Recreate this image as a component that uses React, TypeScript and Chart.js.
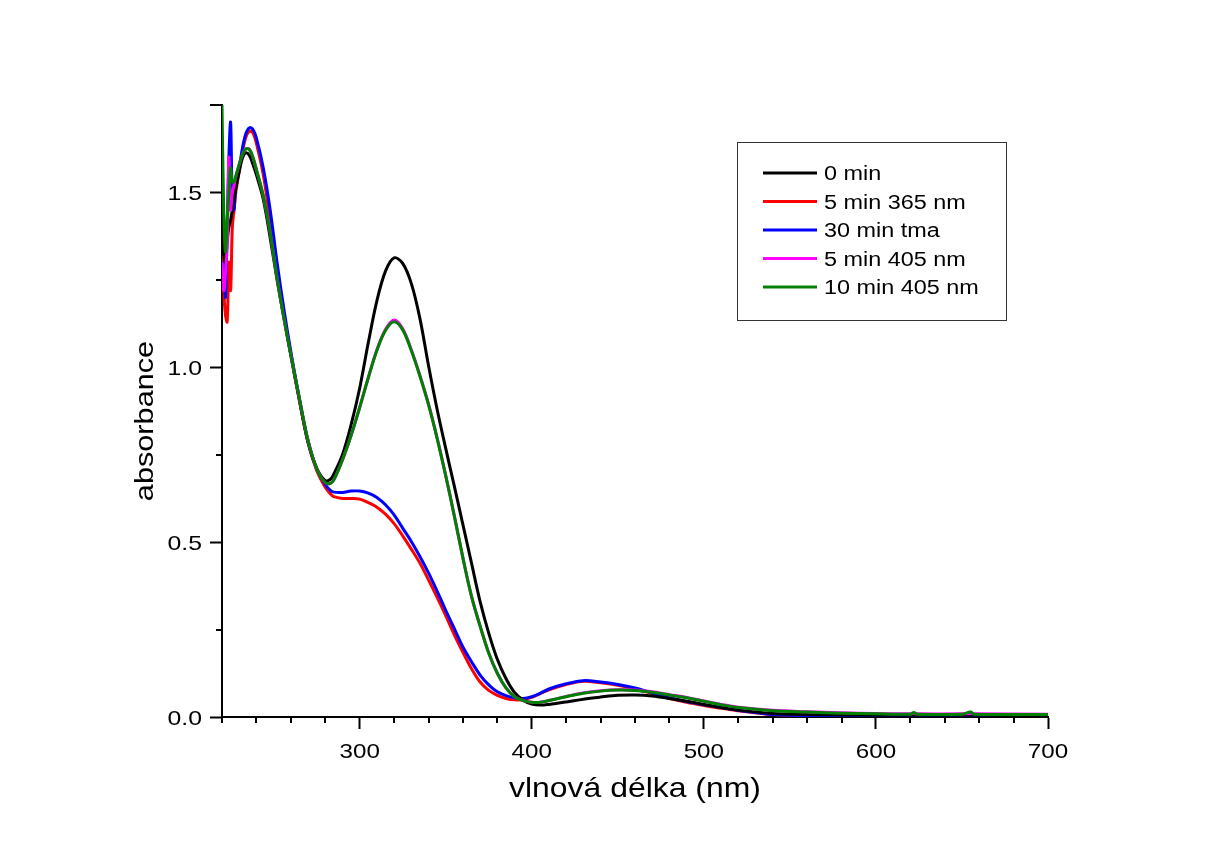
import React, { useEffect, useRef } from "react";
import { Chart, registerables } from "chart.js";

Chart.register(...registerables);

// ---------------- data ----------------
const wavelengths = [
  220, 221, 222, 223, 224, 225, 226, 227, 228,
  230, 232, 234, 236, 238, 240,
  244, 248, 252, 256, 260,
  265, 270, 275, 280,
  283, 285,
  290, 295, 300, 305, 310, 315, 320, 325, 330, 335, 340, 345, 350, 355, 360, 365, 370, 375, 380, 385, 390, 395, 400,
  405, 410,
  420, 430, 440, 450, 460, 470, 480, 490, 500, 510, 520,
  540, 560, 580, 600,
  620, 622, 624,
  650, 655, 657,
  700,
];

const min0 = [
  1.38, 1.32, 1.30, 1.36, 1.40, 1.42, 1.45, 1.48, 1.51,
  1.56, 1.60, 1.613, 1.605, 1.58, 1.55,
  1.48, 1.37, 1.25, 1.14, 1.035,
  0.905, 0.785, 0.712, 0.676,
  0.68, 0.695,
  0.75, 0.835, 0.94, 1.07, 1.19, 1.275, 1.313, 1.297, 1.24, 1.14, 1.005, 0.88, 0.768, 0.66, 0.55, 0.44, 0.33, 0.24, 0.165, 0.11, 0.07, 0.048, 0.037,
  0.034, 0.036,
  0.043, 0.051, 0.057, 0.062, 0.063, 0.06, 0.053, 0.045, 0.036, 0.027, 0.02,
  0.01, 0.007, 0.006, 0.005,
  0.005, 0.005, 0.005,
  0.005, 0.005, 0.005,
  0.004,
];

const min5_365 = [
  1.35, 1.22, 1.15, 1.13, 1.30, 1.22, 1.40, 1.45, 1.50,
  1.56, 1.62, 1.66, 1.675, 1.67, 1.64,
  1.55, 1.42, 1.28, 1.15, 1.035,
  0.905, 0.785, 0.705, 0.657,
  0.638, 0.63,
  0.625, 0.625, 0.623, 0.613, 0.6, 0.58, 0.553, 0.518, 0.48, 0.44, 0.392, 0.342, 0.29, 0.235, 0.185, 0.138, 0.1, 0.076, 0.062, 0.053, 0.049, 0.05, 0.056,
  0.067, 0.078,
  0.093, 0.102, 0.098, 0.091, 0.081, 0.067, 0.053, 0.042, 0.033, 0.025, 0.018,
  0.007, 0.004, 0.004, 0.004,
  0.004, 0.004, 0.004,
  0.004, 0.004, 0.004,
  0.003,
];

const min30_tma = [
  1.22, 1.30, 1.20, 1.40, 1.60, 1.70, 1.48, 1.45, 1.52,
  1.57, 1.63, 1.67, 1.685, 1.68, 1.655,
  1.57, 1.45, 1.30, 1.165, 1.045,
  0.91, 0.79, 0.71, 0.665,
  0.648, 0.643,
  0.642, 0.646, 0.646, 0.64, 0.628, 0.607, 0.578, 0.54, 0.502, 0.459, 0.412, 0.36, 0.305, 0.253, 0.2, 0.158, 0.12, 0.092, 0.072, 0.061, 0.055, 0.053, 0.058,
  0.068, 0.08,
  0.095, 0.104, 0.1, 0.093, 0.083, 0.069, 0.055, 0.044, 0.035, 0.027, 0.019,
  0.007, 0.004, 0.003, 0.003,
  0.003, 0.003, 0.003,
  0.003, 0.003, 0.003,
  0.002,
];

const min5_405 = [
  1.30, 1.22, 1.27, 1.35, 1.60, 1.45, 1.50, 1.52, 1.545,
  1.58, 1.61, 1.625, 1.623, 1.60, 1.565,
  1.49, 1.385, 1.255, 1.14, 1.035,
  0.91, 0.79, 0.71, 0.67,
  0.668, 0.678,
  0.735, 0.805, 0.885, 0.97, 1.05, 1.108, 1.135, 1.11, 1.05, 0.977, 0.895, 0.798, 0.69, 0.575, 0.455, 0.345, 0.26, 0.183, 0.125, 0.083, 0.058, 0.047, 0.042,
  0.042, 0.047,
  0.059, 0.069, 0.075, 0.078, 0.077, 0.072, 0.064, 0.056, 0.046, 0.036, 0.028,
  0.019, 0.015, 0.012, 0.01,
  0.009, 0.01, 0.009,
  0.009, 0.01, 0.009,
  0.008,
];

const min10_405 = [
  1.75, 1.45, 1.33, 1.42, 1.50, 1.57, 1.53, 1.53, 1.545,
  1.58, 1.61, 1.625, 1.622, 1.60, 1.565,
  1.49, 1.385, 1.255, 1.14, 1.035,
  0.91, 0.79, 0.71, 0.67,
  0.668, 0.678,
  0.735, 0.805, 0.885, 0.97, 1.048, 1.105, 1.13, 1.107, 1.048, 0.975, 0.893, 0.797, 0.69, 0.575, 0.455, 0.345, 0.26, 0.183, 0.125, 0.083, 0.058, 0.047, 0.042,
  0.042, 0.047,
  0.058, 0.068, 0.074, 0.077, 0.076, 0.071, 0.063, 0.055, 0.045, 0.035, 0.027,
  0.018, 0.014, 0.011, 0.009,
  0.008, 0.013, 0.008,
  0.008, 0.014, 0.008,
  0.007,
];

const seriesLabels = ["0 min", "5 min 365 nm", "30 min tma", "5 min 405 nm", "10 min 405 nm"];
const seriesValues = [min0, min5_365, min30_tma, min5_405, min10_405];
const seriesColors = ["#000000", "#ff0000", "#0000ff", "#ff00ff", "#008000"];
const seriesDrawOrder = [2, 4, 3, 1, 0]; // lower = drawn on top

const X_MIN = 220;
const X_MAX = 700;
const X_MAJOR = 100;
const X_MINOR = 20;
const Y_MIN = 0;
const Y_MAX = 1.75;
const Y_MAJOR = 0.5;
const Y_MINOR = 0.25;

const xTitle = "vlnová délka (nm)";
const yTitle = "absorbance";

const FONT = '"Liberation Sans", Arial, sans-serif';

function drawText(
  ctx: CanvasRenderingContext2D,
  text: string,
  x: number,
  y: number,
  size: number,
  align: CanvasTextAlign,
  stretch: number,
  rotate = false
) {
  ctx.save();
  ctx.translate(x, y);
  if (rotate) ctx.rotate(-Math.PI / 2);
  ctx.scale(stretch, 1);
  ctx.font = `${size}px ${FONT}`;
  ctx.fillStyle = "#000";
  ctx.textAlign = align;
  ctx.textBaseline = "alphabetic";
  ctx.fillText(text, 0, 0);
  ctx.restore();
}

const decorPlugin = {
  id: "decor",
  afterDraw(chart: any) {
    const ctx: CanvasRenderingContext2D = chart.ctx;
    const xs = chart.scales.x;
    const ys = chart.scales.y;
    const area = chart.chartArea;

    // minor ticks
    ctx.save();
    ctx.strokeStyle = "#000";
    ctx.lineWidth = 2;
    for (let v = X_MIN; v <= X_MAX + 1e-9; v += X_MINOR) {
      if (Math.abs(v % X_MAJOR) < 1e-9) continue;
      const px = Math.round(xs.getPixelForValue(v));
      ctx.beginPath();
      ctx.moveTo(px, area.bottom);
      ctx.lineTo(px, area.bottom + 6);
      ctx.stroke();
    }
    for (let k = 0; k * Y_MINOR <= Y_MAX + 1e-9; k++) {
      const v = Y_MIN + k * Y_MINOR;
      const r = v / Y_MAJOR;
      if (Math.abs(r - Math.round(r)) < 1e-9) continue;
      const len = Math.abs(v - Y_MAX) < 1e-9 ? 12 : 6;
      const py = Math.round(ys.getPixelForValue(v));
      ctx.beginPath();
      ctx.moveTo(area.left, py);
      ctx.lineTo(area.left - len, py);
      ctx.stroke();
    }
    ctx.restore();

    // tick labels
    xs.ticks.forEach((t: any) => {
      drawText(ctx, String(t.value), xs.getPixelForValue(t.value), area.bottom + 41, 21, "center", 1.15);
    });
    ys.ticks.forEach((t: any) => {
      drawText(ctx, Number(t.value).toFixed(1), area.left - 20, ys.getPixelForValue(t.value) + 7.5, 21, "right", 1.18);
    });

    // axis titles
    drawText(ctx, xTitle, (area.left + area.right) / 2, area.bottom + 80, 28, "center", 1.14);
    drawText(ctx, yTitle, area.left - 69, (area.top + area.bottom) / 2 + 10, 26, "center", 1.18, true);

    // legend
    const bx = 737.5, by = 142.5, bw = 269, bh = 178;
    ctx.save();
    ctx.strokeStyle = "#333";
    ctx.lineWidth = 1;
    ctx.strokeRect(bx, by, bw, bh);
    seriesLabels.forEach((lab, i) => {
      const ry = 173 + i * 28.5;
      ctx.strokeStyle = seriesColors[i];
      ctx.lineWidth = 3;
      ctx.beginPath();
      ctx.moveTo(763, ry);
      ctx.lineTo(817, ry);
      ctx.stroke();
      drawText(ctx, lab, 824, ry + 7, 20, "left", 1.17);
    });
    ctx.restore();
  },
};

export default function App() {
  const canvasRef = useRef<HTMLCanvasElement | null>(null);

  useEffect(() => {
    document.body.style.margin = "0";
    document.body.style.overflow = "hidden";
    const canvas = canvasRef.current;
    if (!canvas) return;

    const datasets = seriesLabels.map((label, i) => ({
      label,
      data: wavelengths.map((w, j) => ({ x: w, y: seriesValues[i][j] })),
      borderColor: seriesColors[i],
      backgroundColor: seriesColors[i],
      borderWidth: 3,
      pointRadius: 0,
      fill: false,
      tension: 0.35,
      order: seriesDrawOrder[i],
    }));

    const chart = new Chart(canvas, {
      type: "line",
      data: { datasets },
      options: {
        animation: false,
        responsive: false,
        devicePixelRatio: 1,
        layout: { padding: { left: 0, right: 158, top: 105, bottom: 0 } },
        plugins: {
          legend: { display: false },
          tooltip: { enabled: false },
          title: { display: false },
        },
        scales: {
          x: {
            type: "linear",
            min: X_MIN,
            max: X_MAX,
            ticks: { display: false, stepSize: X_MAJOR },
            afterBuildTicks: (scale: any) => {
              scale.ticks = scale.ticks.filter((t: any) => Math.abs(t.value % X_MAJOR) < 1e-9);
            },
            afterFit: (scale: any) => {
              scale.height = 131;
            },
            grid: {
              drawOnChartArea: false,
              drawTicks: true,
              tickLength: 12,
              tickWidth: 2,
              tickColor: "#000",
            },
            border: { display: true, color: "#000", width: 2 },
          },
          y: {
            type: "linear",
            min: Y_MIN,
            max: Y_MAX,
            ticks: { display: false, stepSize: Y_MAJOR },
            afterBuildTicks: (scale: any) => {
              scale.ticks = scale.ticks.filter((t: any) => {
                const r = t.value / Y_MAJOR;
                return Math.abs(r - Math.round(r)) < 1e-9;
              });
            },
            afterFit: (scale: any) => {
              scale.width = 222;
            },
            grid: {
              drawOnChartArea: false,
              drawTicks: true,
              tickLength: 12,
              tickWidth: 2,
              tickColor: "#000",
            },
            border: { display: true, color: "#000", width: 2 },
          },
        },
      },
      plugins: [decorPlugin],
    });

    return () => {
      chart.destroy();
    };
  }, []);

  return (
    <div style={{ width: 1206, height: 848, background: "#fff" }}>
      <canvas ref={canvasRef} width={1206} height={848} />
    </div>
  );
}
